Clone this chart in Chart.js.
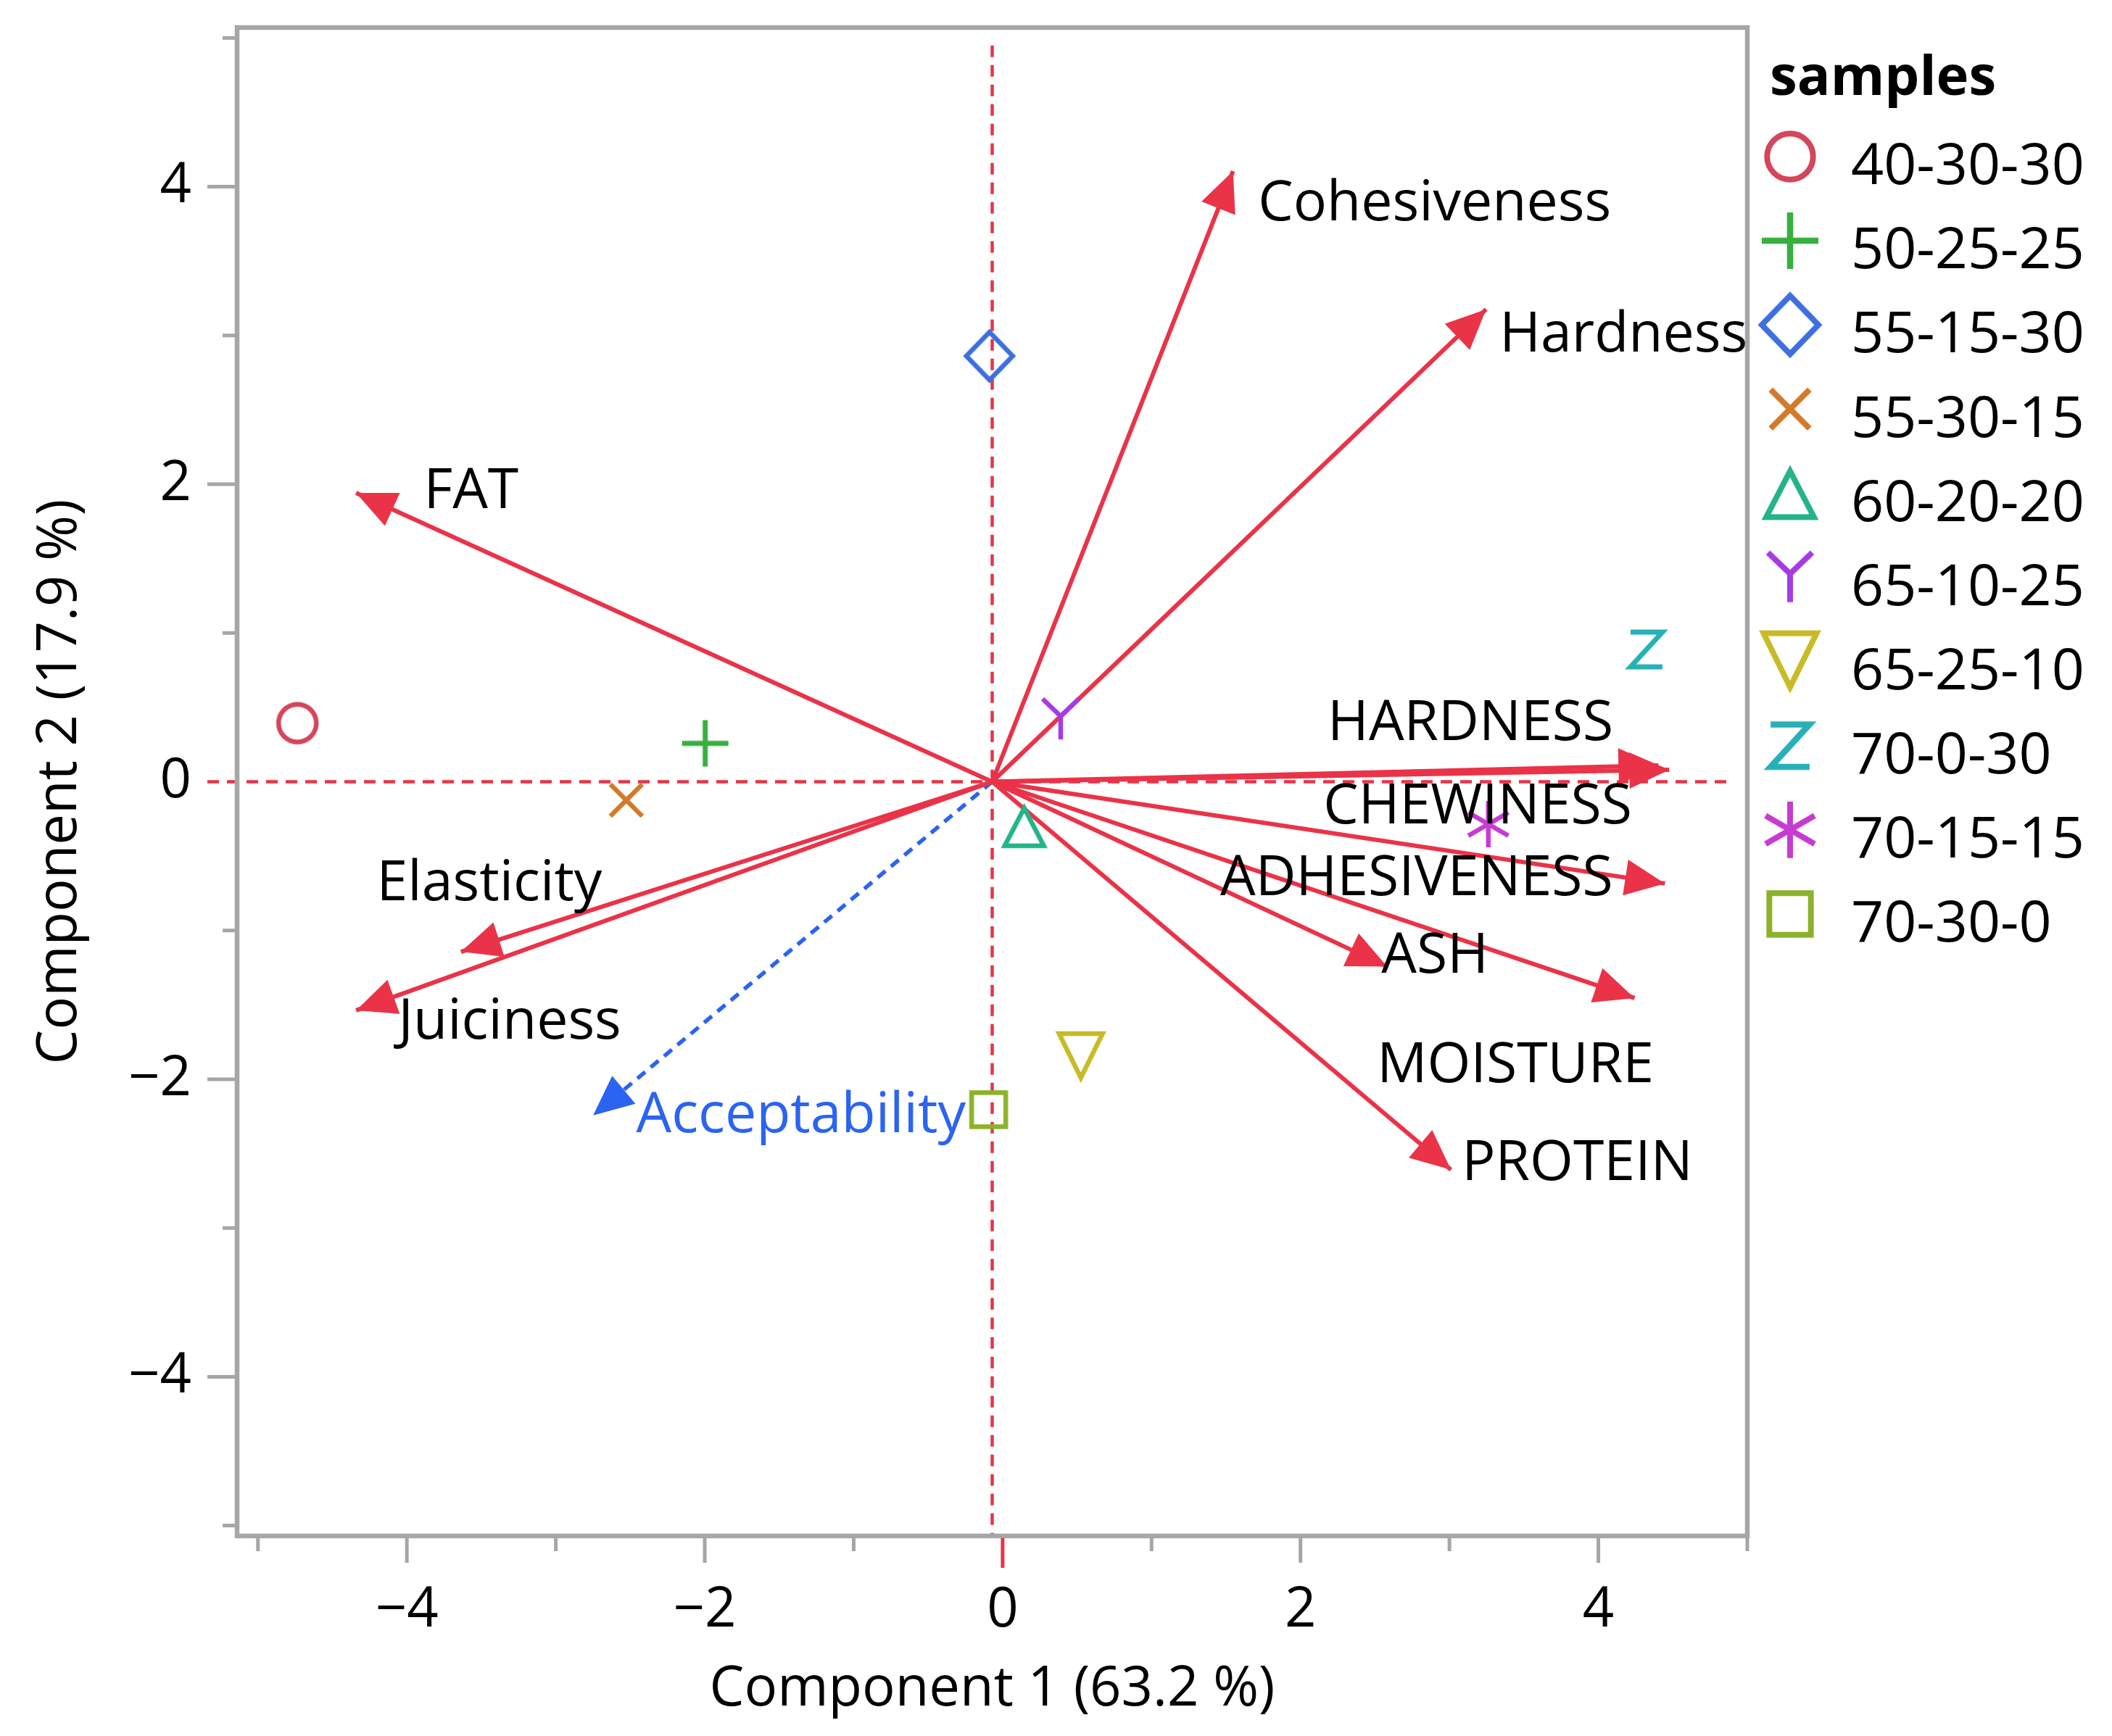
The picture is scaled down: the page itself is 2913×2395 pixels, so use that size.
<!DOCTYPE html>
<html>
<head>
<meta charset="utf-8">
<script src="https://cdn.jsdelivr.net/npm/chart.js@4.4.1/dist/chart.umd.min.js"></script>
<style>
html,body{margin:0;padding:0;background:#fff;}
canvas{display:block;}
</style>
</head>
<body>
<canvas id="c" width="2913" height="2395" style="width:2913px;height:2395px"></canvas>
<script>
// ---------------- data ----------------
const SAMPLES  = ['40-30-30','50-25-25','55-15-30','55-30-15','60-20-20','65-10-25','65-25-10','70-0-30','70-15-15','70-30-0'];
const SAMPLE_X = [-4.735, -1.997, -0.088, -2.527, 0.145, 0.390, 0.525, 4.323, 3.261, -0.094];
const SAMPLE_Y = [ 0.394,  0.258,  2.862, -0.124, -0.299, 0.421, -1.849, 0.889, -0.285, -2.204];

const VARIABLES = ['Cohesiveness','Hardness','FAT','HARDNESS','CHEWINESS','ADHESIVENESS','ASH','MOISTURE','PROTEIN','Elasticity','Juiciness'];
const LOAD_X    = [1.547, 3.246, -4.341, 4.476, 4.403, 4.447, 2.582, 4.243, 3.010, -3.637, -4.341];
const LOAD_Y    = [4.105, 3.176,  1.942, 0.080, 0.110, -0.684, -1.243, -1.454, -2.608, -1.143, -1.537];

const SUPP_VARIABLES = ['Acceptability'];
const SUPP_X = [-2.749];
const SUPP_Y = [-2.243];

const ORIGIN = [-0.07, 0];

// label anchors (data units: left edge, capital-letter centre)
const LABEL_X = [1.715, 3.336, -3.887, 2.182, 2.153, 1.461, 2.543, 2.514, 3.083, -4.203, -4.058];
const LABEL_Y = [3.909, 3.027,  1.975, 0.416, -0.144, -0.631, -1.152, -1.887, -2.545, -0.665, -1.595];
const SUPP_LABEL_X = [-2.460];
const SUPP_LABEL_Y = [-2.224];

const X_TICKS = [-4, -2, 0, 2, 4];
const Y_TICKS = [-4, -2, 0, 2, 4];
const MINOR_TICKS = [-5, -4, -3, -2, -1, 0, 1, 2, 3, 4, 5];

const X_TITLE = 'Component 1 (63.2 %)';
const Y_TITLE = 'Component 2 (17.9 %)';
const LEGEND_TITLE = 'samples';

// ---------------- styles ----------------
const RED = '#EA3348';
const BLUE = '#2B63F2';
const GRAY = '#A6A6A6';
const FONT = "'Open Sans', 'Noto Sans', sans-serif";
const SAMPLE_COLORS = ['#D5455B','#38AF3F','#3D6FE0','#D27A2A','#24B38A','#A43BE4','#C7BB27','#27B1B7','#C63BD2','#8CB22A'];
const SAMPLE_SHAPES = ['circle','plus','diamond','cross','triangle','Y','down','Z','star','square'];

function makeMarker(kind, color, s) {
  let n = Math.ceil(100 * s); if (n % 2) n++;
  const c = document.createElement('canvas');
  c.width = n; c.height = n;
  const g = c.getContext('2d');
  g.translate(n / 2, n / 2);
  g.scale(s, s);
  g.strokeStyle = color;
  g.lineWidth = 6.5;
  g.lineCap = 'butt';
  g.lineJoin = 'miter';
  g.beginPath();
  switch (kind) {
    case 'circle': g.arc(0, 0, 26, 0, Math.PI * 2); break;
    case 'plus': g.lineWidth = 7; g.moveTo(-32, 0); g.lineTo(32, 0); g.moveTo(0, -32); g.lineTo(0, 32); break;
    case 'diamond': g.moveTo(0, -33); g.lineTo(32, 0); g.lineTo(0, 33); g.lineTo(-32, 0); g.closePath(); break;
    case 'cross': g.moveTo(-22, -22); g.lineTo(22, 22); g.moveTo(-22, 22); g.lineTo(22, -22); break;
    case 'triangle': g.moveTo(0, -25); g.lineTo(27, 27); g.lineTo(-27, 27); g.closePath(); break;
    case 'down': g.moveTo(-30, -32); g.lineTo(30, -32); g.lineTo(0, 29); g.closePath(); break;
    case 'Y': g.moveTo(-25, -28); g.lineTo(0, -4); g.lineTo(25, -28); g.moveTo(0, -4); g.lineTo(0, 28); break;
    case 'Z': g.lineWidth = 7; g.moveTo(-22, -24); g.lineTo(22, -24); g.lineTo(-22, 24); g.lineTo(22, 24); break;
    case 'star':
      [90, 30, 150].forEach(d => {
        const r = d * Math.PI / 180, dx = Math.cos(r) * 32, dy = Math.sin(r) * 32;
        g.moveTo(-dx, -dy); g.lineTo(dx, dy);
      });
      break;
    case 'square': g.rect(-23.5, -23.5, 47, 47); break;
  }
  g.stroke();
  return c;
}

const PLOT_MARKERS = SAMPLE_SHAPES.map((k, i) => makeMarker(k, SAMPLE_COLORS[i], 1));
const LEGEND_MARKERS = SAMPLE_SHAPES.map((k, i) => makeMarker(k, SAMPLE_COLORS[i], 1.22));

const fmt = v => (v < 0 ? '\u2212' + Math.abs(v) : String(v));

// ---------------- datasets ----------------
const datasets = [];
SAMPLES.forEach((name, i) => {
  datasets.push({
    label: name,
    data: [{ x: SAMPLE_X[i], y: SAMPLE_Y[i] }],
    pointStyle: PLOT_MARKERS[i],
    pointRadius: 30,
    pointHoverRadius: 30,
    showLine: false,
    order: 1
  });
});
VARIABLES.forEach((name, i) => {
  datasets.push({
    label: name,
    data: [{ x: ORIGIN[0], y: ORIGIN[1] }, { x: LOAD_X[i], y: LOAD_Y[i] }],
    showLine: true,
    borderColor: RED,
    borderWidth: 6,
    pointRadius: 0,
    isArrow: true,
    order: 2
  });
});
SUPP_VARIABLES.forEach((name, i) => {
  datasets.push({
    label: name,
    data: [{ x: ORIGIN[0], y: ORIGIN[1] }, { x: SUPP_X[i], y: SUPP_Y[i] }],
    showLine: true,
    borderColor: BLUE,
    borderWidth: 5.5,
    borderDash: [14, 10],
    pointRadius: 0,
    isArrow: true,
    order: 2
  });
});

// ---------------- plugin ----------------
const LABEL_SIZE = 77;
const decor = {
  id: 'decor',
  beforeDatasetsDraw(chart) {
    const { ctx, chartArea: a, scales: { x, y } } = chart;
    ctx.save();
    ctx.strokeStyle = RED;
    ctx.lineWidth = 4.5;
    ctx.setLineDash([16, 11]);
    const y0 = y.getPixelForValue(0);
    const xv = x.getPixelForValue(ORIGIN[0]);
    ctx.beginPath();
    ctx.moveTo(a.left - 41, y0);
    ctx.lineTo(x.getPixelForValue(4.87), y0);
    ctx.stroke();
    ctx.beginPath();
    ctx.moveTo(xv, y.getPixelForValue(4.95));
    ctx.lineTo(xv, a.bottom);
    ctx.stroke();
    ctx.restore();
  },
  afterDatasetsDraw(chart) {
    const { ctx, chartArea: a, scales: { x, y } } = chart;
    ctx.save();
    // arrow heads
    chart.data.datasets.forEach((ds, i) => {
      if (!ds.isArrow) return;
      const meta = chart.getDatasetMeta(i);
      const p0 = meta.data[0], p1 = meta.data[1];
      const ang = Math.atan2(p1.y - p0.y, p1.x - p0.x);
      const L = 55, W = 25;
      const ux = Math.cos(ang), uy = Math.sin(ang);
      const bx = p1.x - ux * L, by = p1.y - uy * L;
      ctx.fillStyle = ds.borderColor;
      ctx.beginPath();
      ctx.moveTo(p1.x, p1.y);
      ctx.lineTo(bx - uy * W, by + ux * W);
      ctx.lineTo(bx + uy * W, by - ux * W);
      ctx.closePath();
      ctx.fill();
    });
    // frame
    ctx.strokeStyle = GRAY;
    ctx.lineWidth = 6.5;
    ctx.strokeRect(a.left, a.top, a.right - a.left, a.bottom - a.top);
    // tick marks
    ctx.lineWidth = 5;
    MINOR_TICKS.forEach(v => {
      const major = v % 2 === 0;
      const py = y.getPixelForValue(v);
      if (v !== 0) {
        ctx.strokeStyle = GRAY;
        ctx.beginPath();
        ctx.moveTo(a.left - (major ? 41 : 20), py);
        ctx.lineTo(a.left, py);
        ctx.stroke();
      }
      const px = x.getPixelForValue(v);
      ctx.strokeStyle = v === 0 ? RED : GRAY;
      ctx.beginPath();
      ctx.moveTo(px, a.bottom + 3);
      ctx.lineTo(px, a.bottom + (v === 0 ? 44 : (major ? 37 : 21)));
      ctx.stroke();
    });
    // variable labels
    ctx.font = `${LABEL_SIZE}px ${FONT}`;
    ctx.textAlign = 'left';
    ctx.textBaseline = 'alphabetic';
    const cap = 0.357 * LABEL_SIZE;
    ctx.fillStyle = '#000';
    VARIABLES.forEach((name, i) => {
      ctx.fillText(name, x.getPixelForValue(LABEL_X[i]), y.getPixelForValue(LABEL_Y[i]) + cap);
    });
    ctx.fillStyle = BLUE;
    SUPP_VARIABLES.forEach((name, i) => {
      ctx.fillText(name, x.getPixelForValue(SUPP_LABEL_X[i]), y.getPixelForValue(SUPP_LABEL_Y[i]) + cap);
    });
    ctx.restore();
  },
  afterDraw(chart) {
    const { ctx, chartArea: a } = chart;
    ctx.save();
    const left = a.right + 31;
    ctx.fillStyle = '#000';
    ctx.textAlign = 'left';
    ctx.textBaseline = 'alphabetic';
    ctx.font = `bold 76px ${FONT}`;
    ctx.fillText(LEGEND_TITLE, left, 131);
    ctx.font = `79px ${FONT}`;
    chart.data.datasets.forEach((ds, i) => {
      if (ds.isArrow) return;
      const cy = 226 + i * 116.1;
      const m = LEGEND_MARKERS[i];
      ctx.drawImage(m, left + 28 - m.width / 2, cy - 10 - m.height / 2);
      ctx.fillText(ds.label, left + 112, cy + 0.357 * 79);
    });
    ctx.restore();
  }
};

// ---------------- chart ----------------
new Chart(document.getElementById('c'), {
  type: 'scatter',
  data: { datasets },
  options: {
    responsive: false,
    animation: false,
    devicePixelRatio: 1,
    events: [],
    layout: { padding: { left: 0, right: 503, top: 38, bottom: 0 } },
    plugins: { legend: { display: false }, tooltip: { enabled: false } },
    scales: {
      x: {
        type: 'linear', min: -5.14, max: 5.0,
        afterBuildTicks: s => { s.ticks = X_TICKS.map(v => ({ value: v })); },
        afterFit: s => { s.height = 276; s.paddingLeft = 0; s.paddingRight = 0; s.paddingTop = 0; s.paddingBottom = 0; },
        grid: { display: false, drawTicks: false },
        border: { display: false },
        ticks: { callback: fmt, padding: 58, color: '#000', maxRotation: 0, autoSkip: false, font: { family: FONT, size: 76 } },
        title: { display: true, text: X_TITLE, color: '#000', font: { family: FONT, size: 76 }, padding: { top: 0, bottom: 18 } }
      },
      y: {
        type: 'linear', min: -5.07, max: 5.07,
        afterBuildTicks: s => { s.ticks = Y_TICKS.map(v => ({ value: v })); },
        afterFit: s => { s.width = 327; s.paddingTop = 0; s.paddingBottom = 0; s.paddingLeft = 0; s.paddingRight = 0; },
        grid: { display: false, drawTicks: false },
        border: { display: false },
        ticks: { callback: fmt, padding: 63, color: '#000', autoSkip: false, font: { family: FONT, size: 76 } },
        title: { display: true, text: Y_TITLE, color: '#000', font: { family: FONT, size: 76 }, padding: { top: 38, bottom: 0 } }
      }
    }
  },
  plugins: [decor]
});
</script>
</body>
</html>
